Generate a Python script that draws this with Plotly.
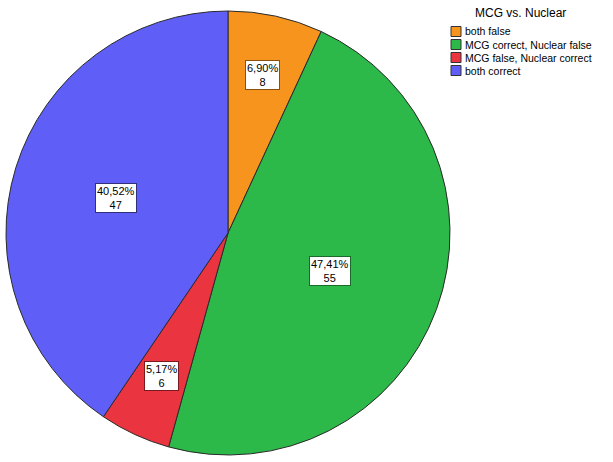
import math
import plotly.graph_objects as go

# MCG vs. Nuclear agreement counts
categories = ['both false', 'MCG correct, Nuclear false', 'MCG false, Nuclear correct', 'both correct']
counts = [8, 55, 6, 47]

colors = ['#F7941E', '#2DB84A', '#EA3440', '#5F5FF7']
box_borders = ['#8A5010', '#1B6A2B', '#7A1A20', '#30307A']
# how far out each label box sits, as a fraction of the radius
label_r = [0.73, 0.49, 0.71, 0.53]

total = sum(counts)

# pie geometry (pixels, then converted to paper coords)
W, H = 613, 462
cx_px, cy_px, r_px = 228, 233, 222
dom_x = [(cx_px - r_px) / W, (cx_px + r_px) / W]
dom_y = [1 - (cy_px + r_px) / H, 1 - (cy_px - r_px) / H]

fig = go.Figure(go.Pie(
    labels=categories,
    values=counts,
    sort=False,
    direction='clockwise',
    rotation=0,
    textinfo='none',
    hoverinfo='label+value+percent',
    showlegend=False,
    marker=dict(colors=colors, line=dict(color='#2a2a2a', width=1)),
    domain=dict(x=dom_x, y=dom_y),
))

# boxed "percent / count" labels, SPSS style
annotations = []
cum = 0
for i, v in enumerate(counts):
    mid = (cum + v / 2) / total * 2 * math.pi
    cum += v
    pct = f"{100 * v / total:.2f}".replace('.', ',') + '%'
    x = (cx_px + label_r[i] * r_px * math.sin(mid)) / W
    y = 1 - (cy_px - label_r[i] * r_px * math.cos(mid)) / H
    annotations.append(dict(
        x=x, y=y, xref='paper', yref='paper', xanchor='center', yanchor='middle',
        text=f"{pct}<br>{v}", showarrow=False,
        font=dict(family='Liberation Sans, Arial', size=11, color='#000000'),
        bgcolor='#FFFFFF', bordercolor=box_borders[i], borderwidth=1, borderpad=1,
    ))

# legend drawn by hand so the rows sit as tight as in the original
leg_x, leg_top, row_h = 451, 31.5, 13
annotations.append(dict(
    x=520 / W, y=1 - 13 / H, xref='paper', yref='paper',
    text='MCG vs. Nuclear', showarrow=False, xanchor='center', yanchor='middle',
    font=dict(family='Liberation Sans, Arial', size=12, color='#000000'),
))
shapes = []
for i, name in enumerate(categories):
    yc = leg_top + i * row_h
    shapes.append(dict(
        type='rect', xref='paper', yref='paper',
        x0=leg_x / W, x1=(leg_x + 10) / W,
        y0=1 - (yc - 5) / H, y1=1 - (yc + 5) / H,
        fillcolor=colors[i], line=dict(color='#333333', width=1),
    ))
    annotations.append(dict(
        x=(leg_x + 12) / W, y=1 - yc / H, xref='paper', yref='paper',
        text=name, showarrow=False, xanchor='left', yanchor='middle',
        font=dict(family='Liberation Sans, Arial', size=10.5, color='#000000'),
    ))

fig.update_layout(
    width=W, height=H,
    margin=dict(l=0, r=0, t=0, b=0, autoexpand=False),
    paper_bgcolor='#FFFFFF',
    plot_bgcolor='#FFFFFF',
    font=dict(family='Liberation Sans, Arial', color='#000000'),
    annotations=annotations,
    shapes=shapes,
)

# drop the default page margin so the figure sits flush in the window
fig.write_html("out.html", config={'displayModeBar': False},
               post_script="document.body.style.margin='0';")
